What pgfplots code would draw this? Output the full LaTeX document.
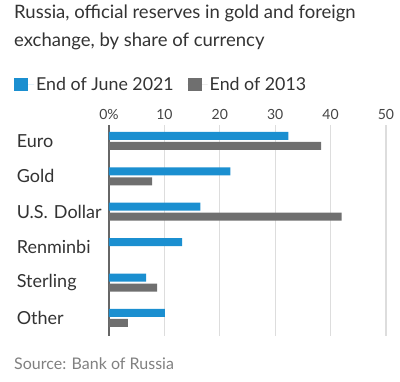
\documentclass[border=0pt]{standalone}
\usepackage{pgfplots}
\pgfplotsset{compat=1.18}
\usepackage{fontspec}
\setmainfont{Lato}
\definecolor{wsjblue}{HTML}{1B8FD0}
\definecolor{wsjgrey}{HTML}{6F6F6F}
\definecolor{gridc}{HTML}{DDDDDD}
\definecolor{txt}{HTML}{333333}
\definecolor{ticktxt}{HTML}{444444}
\definecolor{axisc}{HTML}{666666}
\begin{document}
\begin{tikzpicture}
\useasboundingbox (0,0) rectangle (400pt,-382pt);
\node[anchor=north west, inner sep=0, align=left, text=txt, font=\fontsize{18.5}{27.5}\selectfont] at (14pt,-5pt) {Russia, official reserves in gold and foreign\\exchange, by share of currency};
\node[anchor=base west, inner sep=0, text=gray, font=\fontsize{16}{18}\selectfont] at (14pt,-370pt) {Source: Bank of Russia};
\begin{axis}[
  at={(109pt,-125pt)}, anchor=north west,
  scale only axis, width=277pt, height=211pt,
  xmin=0, xmax=50, ymin=-0.45, ymax=5.51, y dir=reverse,
  xbar, bar width=8pt,
  xtick={0,10,...,50}, xticklabels={0\%,10,20,30,40,50},
  xticklabel pos=upper,
  xticklabel style={text=ticktxt, font=\fontsize{14}{16}\selectfont, yshift=2pt},
  ytick={0,...,5}, yticklabels={Euro,Gold,U.S. Dollar,Renminbi,Sterling,Other},
  yticklabel style={text=txt, font=\fontsize{18}{20}\selectfont, text width=88pt, align=left, inner sep=0pt, xshift=-4pt},
  axis line style={draw=none}, major tick length=0pt,
  xmajorgrids, grid style={gridc, line width=1.2pt},
  extra x ticks={0}, extra x tick labels={},
  extra x tick style={grid style={axisc, line width=1.6pt}},
  legend columns=2,
  legend style={at={(axis description cs:-0.343,1.19)}, anchor=west, draw=none, fill=none, inner sep=0pt,
    font=\fontsize{17.8}{20}\selectfont, text=txt,
    /tikz/every even column/.append style={column sep=12pt}},
  legend image code/.code={\fill[#1] (0pt,-6.5pt) rectangle (14pt,6.5pt); \path (0pt,0pt) -- (20pt,0pt);},
]
\addplot[fill=wsjblue, draw=none, bar shift=5pt] coordinates {(32.4,0) (21.9,1) (16.5,2) (13.2,3) (6.7,4) (10.1,5)};
\addplot[fill=wsjgrey, draw=none, bar shift=-5pt] coordinates {(38.3,0) (7.8,1) (42.0,2) (8.7,4) (3.4,5)};
\legend{End of June 2021, End of 2013}
\end{axis}
\end{tikzpicture}
\end{document}
